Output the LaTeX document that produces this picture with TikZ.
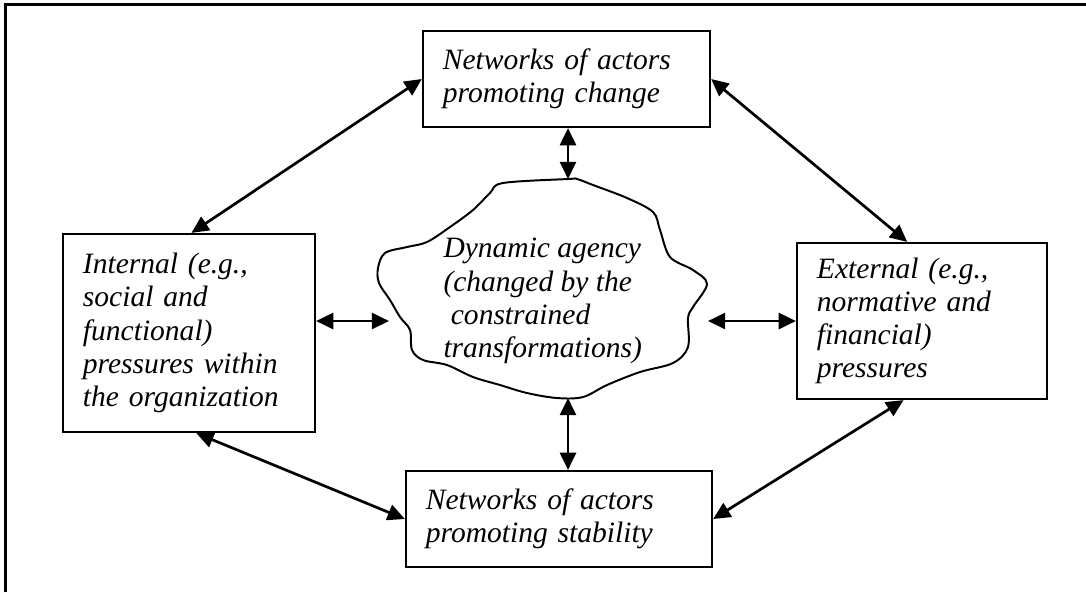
\documentclass[tikz,border=0pt]{standalone}
\usepackage{fontspec}
\setmainfont{Liberation Serif}
\usetikzlibrary{arrows.meta,calc}
\begin{document}
\begin{tikzpicture}[x=0.4065pt,y=-0.4065pt,
  every node/.style={font=\itshape\fontsize{12pt}{13.5pt}\selectfont},
  box/.style={draw,line width=0.9pt,rectangle,inner xsep=8.1pt,inner ysep=0pt,align=left},
  dbl/.style={line width=1.1pt,{Triangle[length=7pt,width=6.5pt]}-{Triangle[length=7pt,width=6.5pt]}},
  frame/.style={line width=1pt}]
\useasboundingbox (0,0) rectangle (1086,592);
\draw[frame] (5.5,592) -- (5.5,4.5) -- (1086,4.5);

\node[box,minimum width=116.7pt,minimum height=39pt,text width=100.5pt] (T) at (566.5,79)
  {Networks of actors\\promoting change};
\node[box,minimum width=102.4pt,minimum height=80.5pt,text width=86.2pt] (L) at (189,333)
  {Internal (e.g.,\\social and\\functional)\\pressures within\\the organization};
\node[box,minimum width=101.6pt,minimum height=63.4pt,text width=85.4pt] (R) at (922,321)
  {External (e.g.,\\normative and\\financial)\\pressures};
\node[box,minimum width=124.4pt,minimum height=39pt,text width=108.2pt] (B) at (559,519)
  {Networks of actors\\promoting stability};

% cloud outline
\draw[line width=0.8pt] plot[smooth cycle,tension=0.55] coordinates {
  (503,183) (568,179) (577,179) (593,185) (627,198) (653,212) (660,230)
  (670,257) (693,270) (707,284) (693,307) (688,318) (688,347)
  (673,363) (640,372) (607,385) (583,397) (557,398) (527,393)
  (500,385) (473,377) (447,365) (423,360) (412,350) (410,330)
  (400,317) (390,300) (379,283) (378,268) (385,253) (407,247)
  (427,242) (450,227) (473,210) (490,193)};
\node[anchor=west,inner sep=0pt,align=left] (C) at (443,301)
  {Dynamic agency\\(changed by the\\\ constrained\\transformations)};

\coordinate (ct) at (568,179);
\coordinate (cb) at (568,398);
\coordinate (cl) at (389,321);
\coordinate (cr) at (708,321);

\draw[dbl] (ct |- T.south) -- (ct);
\draw[dbl] (cb) -- (cb |- B.north);
\draw[dbl] (cl -| L.east) -- (cl);
\draw[dbl] (cr) -- (cr -| R.west);

\draw[dbl] ([xshift=1pt]L.north) -- (T.west);
\draw[dbl] (T.east) -- ([xshift=-6pt]R.north);
\draw[dbl] ([xshift=3pt]L.south) -- (B.west);
\draw[dbl] (B.east) -- ([xshift=-7.5pt]R.south);
\end{tikzpicture}
\end{document}
